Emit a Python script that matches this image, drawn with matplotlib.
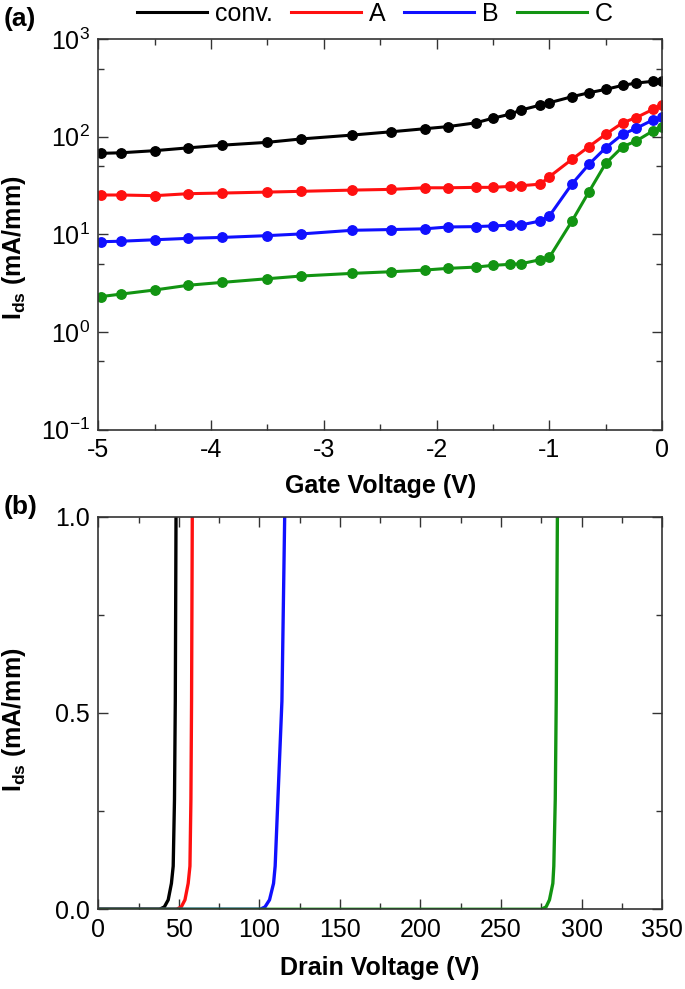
import matplotlib
matplotlib.use("Agg")
import matplotlib.pyplot as plt
from matplotlib.ticker import LogLocator, MultipleLocator, FixedLocator
from matplotlib.lines import Line2D

# ---------------- data (a): transfer curves ----------------
vg = [-4.98, -4.8, -4.5, -4.2, -3.9, -3.5, -3.2, -2.75, -2.4, -2.1, -1.9, -1.65,
      -1.5, -1.35, -1.25, -1.08, -1.0, -0.8, -0.65, -0.5, -0.35, -0.23, -0.08, 0.0]
id_conv = [67.6, 68.5, 72, 77, 82, 87.7, 95, 104, 112.5, 121, 127, 139,
           155, 170, 188, 211, 223, 257, 282, 306, 336, 355, 370, 372]
id_A = [25.3, 25.3, 24.9, 26.1, 26.5, 27.1, 27.6, 28.4, 28.9, 30, 30, 30.3,
        30.3, 31, 31.5, 32.7, 38.9, 58.6, 79, 106, 139, 157, 191, 211]
id_B = [8.4, 8.5, 8.8, 9.1, 9.3, 9.7, 10.1, 11.0, 11.2, 11.4, 11.9, 12.0,
        12.2, 12.4, 12.5, 13.7, 15.4, 32.7, 52, 77, 106, 122, 149, 158]
id_C = [2.30, 2.44, 2.69, 3.01, 3.22, 3.51, 3.74, 3.98, 4.14, 4.31, 4.48, 4.62,
        4.81, 4.93, 5.0, 5.5, 5.8, 13.6, 27.1, 53.3, 79, 90.4, 115, 126]

# ---------------- data (b): off-state breakdown ----------------
ioff = [0, 0, 0.006, 0.024, 0.066, 0.11, 0.28, 0.53, 1.05]
vd_conv = [0, 38, 41, 43.4, 45.4, 46.5, 47.3, 47.8, 48.3]
vd_A = [0, 48.6, 51.5, 53.8, 55.8, 56.9, 57.5, 57.9, 58.4]
vd_B = [0, 100.5, 103.5, 106.3, 108.8, 109.8, 111.5, 114.0, 115.9]
vd_C = [0, 275, 278, 280.1, 282.2, 282.8, 283.7, 284.3, 285.1]

labels = ["conv.", "A", "B", "C"]
colors = ["#000000", "#ff1010", "#1010ff", "#129412"]

FONT = ["Liberation Sans", "DejaVu Sans"]
plt.rcParams["font.family"] = FONT
plt.rcParams["axes.unicode_minus"] = False
plt.rcParams["mathtext.fontset"] = "custom"
plt.rcParams["mathtext.rm"] = "Liberation Sans"
plt.rcParams["mathtext.it"] = "Liberation Sans:italic"
plt.rcParams["mathtext.bf"] = "Liberation Sans:bold"

fig = plt.figure(figsize=(6.85, 9.89), dpi=100)
ax1 = fig.add_axes([0.1435, 0.5657, 0.823, 0.3947])
ax2 = fig.add_axes([0.1435, 0.0806, 0.823, 0.397])

spine_c = "#333333"
for ax in (ax1, ax2):
    for s in ax.spines.values():
        s.set_color(spine_c)
        s.set_linewidth(1.2)
    ax.tick_params(which="both", direction="in", top=True, right=True,
                   colors=spine_c, labelcolor="black", labelsize=18, width=1.0)
    ax.tick_params(which="major", length=7, pad=6)
    ax.tick_params(which="minor", length=4)

# (a)
for y, c in zip([id_conv, id_A, id_B, id_C], colors):
    ax1.plot(vg, y, color=c, lw=2.2, marker="o", ms=6.8)
ax1.set_yscale("log")
ax1.set_xlim(-5, 0)
ax1.set_ylim(0.1, 1000)
ax1.xaxis.set_major_locator(MultipleLocator(1))
ax1.xaxis.set_minor_locator(MultipleLocator(0.5))
ax1.yaxis.set_major_locator(LogLocator(base=10, numticks=10))
ax1.yaxis.set_minor_locator(LogLocator(base=10, subs=[5.0], numticks=10))
ax1.set_xlabel("Gate Voltage (V)", fontsize=18, fontweight="bold", labelpad=9)
ax1.set_ylabel(r"$\mathbf{I_{ds}}$ (mA/mm)", fontsize=18, fontweight="bold")
ax1.yaxis.set_label_coords(-0.125, 0.465)

# (b)
for x, c in zip([vd_conv, vd_A, vd_B, vd_C], colors):
    ax2.plot(x, ioff, color=c, lw=2.4)
ax2.set_xlim(0, 350)
ax2.set_ylim(0, 1.0)
ax2.xaxis.set_major_locator(MultipleLocator(50))
ax2.xaxis.set_minor_locator(MultipleLocator(25))
ax2.yaxis.set_major_locator(FixedLocator([0, 0.5, 1.0]))
ax2.yaxis.set_minor_locator(FixedLocator([0.25, 0.75]))
ax2.set_yticklabels(["0.0", "0.5", "1.0"])
ax2.set_xlabel("Drain Voltage (V)", fontsize=18, fontweight="bold", labelpad=10)
ax2.set_ylabel(r"$\mathbf{I_{ds}}$ (mA/mm)", fontsize=18, fontweight="bold")
ax2.yaxis.set_label_coords(-0.125, 0.482)

# legend
handles = [Line2D([0], [0], color=c, lw=2.2) for c in colors]
fig.legend(handles, labels, loc="center", bbox_to_anchor=(0.547, 0.986), ncol=4,
           frameon=False, fontsize=18, handlelength=2.8, handletextpad=0.3,
           columnspacing=0.75)

fig.text(0.006, 0.981, "(a)", fontsize=19, fontweight="bold", va="center")
fig.text(0.006, 0.487, "(b)", fontsize=19, fontweight="bold", va="center")

fig.savefig("out.png", dpi=100)
